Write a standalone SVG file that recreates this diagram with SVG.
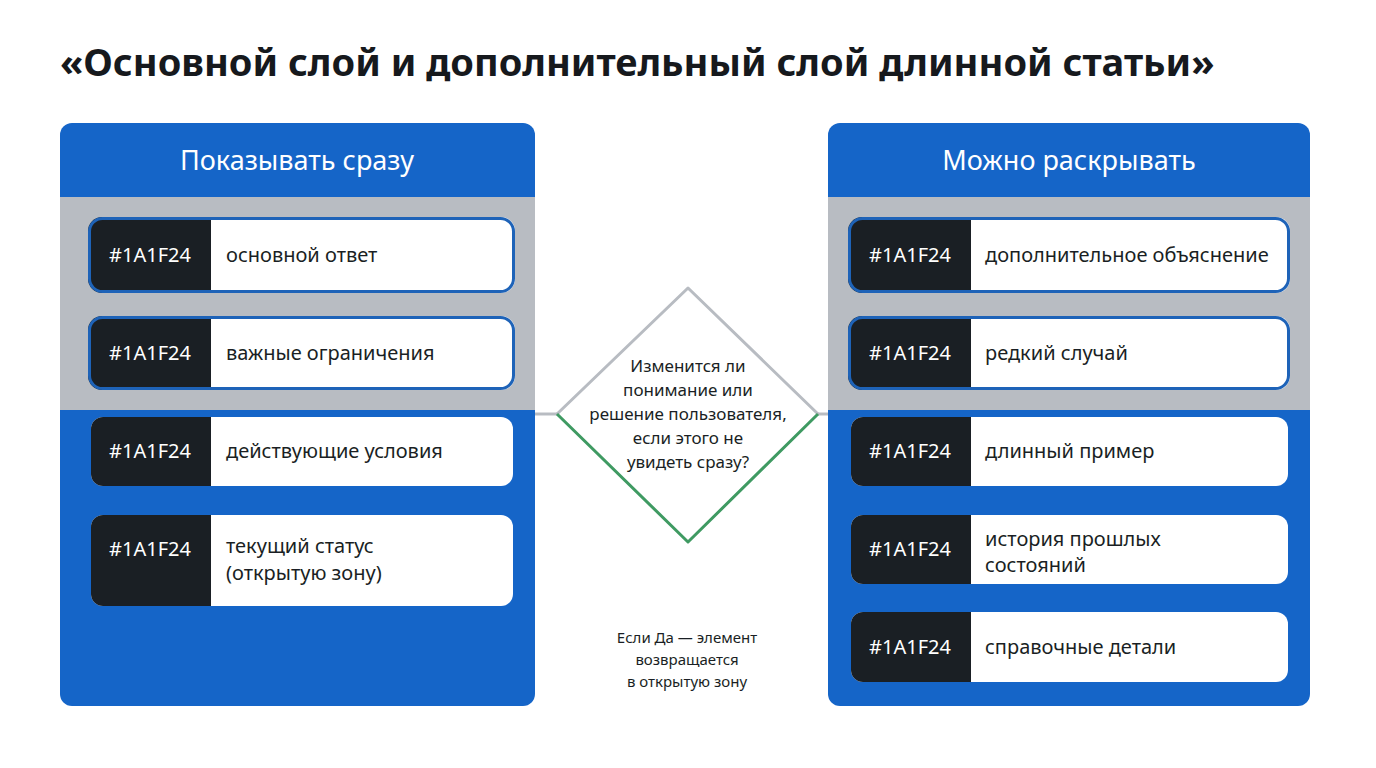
<svg xmlns="http://www.w3.org/2000/svg" width="1376" height="768" viewBox="0 0 1376 768">
<style>
text{font-family:"Noto Sans","Liberation Sans",sans-serif}
.title{font-size:38px;font-weight:700;fill:#16191d}
.hdr{font-size:27px;fill:#fff}
.code{font-size:20px;fill:#fff}
.lbl{font-size:20px;fill:#1a1f24}
.q{font-size:17px;fill:#1a1f24}
.note{font-size:15px;fill:#1a1f24}
.dark{fill:#1a1f24}
.white{fill:#fff}
.blue{fill:#1565c8}
.gray{fill:#b8bcc2}
</style>
<rect width="1376" height="768" fill="#fff"/>
<text class="title" x="60" y="76">«Основной слой и дополнительный слой длинной статьи»</text>
<g id="connectors" stroke-width="3" fill="none">
<line x1="535" y1="414" x2="557" y2="414" stroke="#b8bcc2"/>
<line x1="818" y1="414" x2="828" y2="414" stroke="#b8bcc2"/>
</g>
<g id="panel-left">
<rect x="60" y="123" width="475" height="583" rx="12" class="blue"/>
<rect x="60" y="197" width="475" height="213" class="gray"/>
<text class="hdr" x="297" y="170" text-anchor="middle">Показывать сразу</text>
</g>
<g id="panel-right">
<rect x="828" y="123" width="482" height="583" rx="12" class="blue"/>
<rect x="828" y="197" width="482" height="213" class="gray"/>
<text class="hdr" x="1069" y="170" text-anchor="middle">Можно раскрывать</text>
</g>
<defs>
<clipPath id="c1"><rect x="88" y="217" width="427" height="76" rx="14"/></clipPath>
<clipPath id="c2"><rect x="88" y="316" width="427" height="74" rx="14"/></clipPath>
<clipPath id="c3"><rect x="91" y="417" width="422" height="69" rx="12"/></clipPath>
<clipPath id="c4"><rect x="91" y="515" width="422" height="91" rx="12"/></clipPath>
<clipPath id="c5"><rect x="848" y="217" width="442" height="76" rx="14"/></clipPath>
<clipPath id="c6"><rect x="848" y="316" width="442" height="74" rx="14"/></clipPath>
<clipPath id="c7"><rect x="851" y="417" width="437" height="69" rx="12"/></clipPath>
<clipPath id="c8"><rect x="851" y="515" width="437" height="69" rx="12"/></clipPath>
<clipPath id="c9"><rect x="851" y="612" width="437" height="70" rx="12"/></clipPath>
</defs>
<g id="l1"><g clip-path="url(#c1)"><rect x="88" y="217" width="427" height="76" class="white"/><rect x="88" y="217" width="123" height="76" class="dark"/></g><rect x="89.5" y="218.5" width="424" height="73" rx="13" fill="none" stroke="#1e63b8" stroke-width="3"/><text class="code" x="150" y="262" text-anchor="middle">#1A1F24</text><text class="lbl" x="226" y="262">основной ответ</text></g>
<g id="l2"><g clip-path="url(#c2)"><rect x="88" y="316" width="427" height="74" class="white"/><rect x="88" y="316" width="123" height="74" class="dark"/></g><rect x="89.5" y="317.5" width="424" height="71" rx="13" fill="none" stroke="#1e63b8" stroke-width="3"/><text class="code" x="150" y="360" text-anchor="middle">#1A1F24</text><text class="lbl" x="226" y="360">важные ограничения</text></g>
<g id="l3"><g clip-path="url(#c3)"><rect x="91" y="417" width="422" height="69" class="white"/><rect x="91" y="417" width="120" height="69" class="dark"/></g><text class="code" x="150" y="458" text-anchor="middle">#1A1F24</text><text class="lbl" x="226" y="458">действующие условия</text></g>
<g id="l4"><g clip-path="url(#c4)"><rect x="91" y="515" width="422" height="91" class="white"/><rect x="91" y="515" width="120" height="91" class="dark"/></g><text class="code" x="150" y="556" text-anchor="middle">#1A1F24</text><text class="lbl" x="226" y="553">текущий статус</text><text class="lbl" x="226" y="580">(открытую зону)</text></g>
<g id="r1"><g clip-path="url(#c5)"><rect x="848" y="217" width="442" height="76" class="white"/><rect x="848" y="217" width="123" height="76" class="dark"/></g><rect x="849.5" y="218.5" width="439" height="73" rx="13" fill="none" stroke="#1e63b8" stroke-width="3"/><text class="code" x="910" y="262" text-anchor="middle">#1A1F24</text><text class="lbl" x="985" y="262">дополнительное объяснение</text></g>
<g id="r2"><g clip-path="url(#c6)"><rect x="848" y="316" width="442" height="74" class="white"/><rect x="848" y="316" width="123" height="74" class="dark"/></g><rect x="849.5" y="317.5" width="439" height="71" rx="13" fill="none" stroke="#1e63b8" stroke-width="3"/><text class="code" x="910" y="360" text-anchor="middle">#1A1F24</text><text class="lbl" x="985" y="360">редкий случай</text></g>
<g id="r3"><g clip-path="url(#c7)"><rect x="851" y="417" width="437" height="69" class="white"/><rect x="851" y="417" width="120" height="69" class="dark"/></g><text class="code" x="910" y="458" text-anchor="middle">#1A1F24</text><text class="lbl" x="985" y="458">длинный пример</text></g>
<g id="r4"><g clip-path="url(#c8)"><rect x="851" y="515" width="437" height="69" class="white"/><rect x="851" y="515" width="120" height="69" class="dark"/></g><text class="code" x="910" y="556" text-anchor="middle">#1A1F24</text><text class="lbl" x="985" y="546">история прошлых</text><text class="lbl" x="985" y="572">состояний</text></g>
<g id="r5"><g clip-path="url(#c9)"><rect x="851" y="612" width="437" height="70" class="white"/><rect x="851" y="612" width="120" height="70" class="dark"/></g><text class="code" x="910" y="654" text-anchor="middle">#1A1F24</text><text class="lbl" x="985" y="654">справочные детали</text></g>
<g id="decision">
<path d="M557 414 L688 288 L818 414" fill="none" stroke="#b8bcc2" stroke-width="3" stroke-linejoin="round"/>
<path d="M557 414 L688 542 L818 414" fill="none" stroke="#3f9a62" stroke-width="3" stroke-linejoin="round"/>
<text class="q" text-anchor="middle"><tspan x="688" y="372">Изменится ли</tspan><tspan x="688" y="396">понимание или</tspan><tspan x="688" y="420">решение пользователя,</tspan><tspan x="688" y="444">если этого не</tspan><tspan x="688" y="468">увидеть сразу?</tspan></text>
</g>
<g id="note">
<text class="note" text-anchor="middle"><tspan x="687" y="643">Если Да — элемент</tspan><tspan x="687" y="665">возвращается</tspan><tspan x="687" y="687">в открытую зону</tspan></text>
</g>
</svg>
